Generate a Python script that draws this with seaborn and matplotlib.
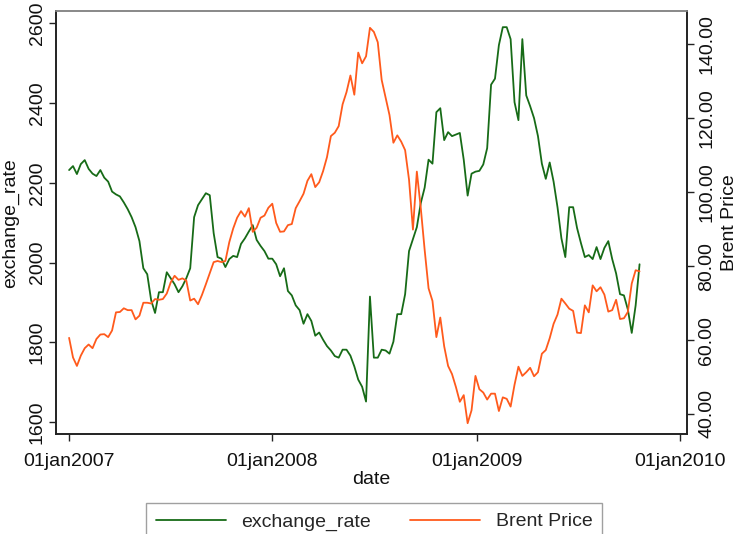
import pandas as pd
import matplotlib
matplotlib.use("Agg")
import matplotlib.pyplot as plt
import matplotlib.dates as mdates
from matplotlib.lines import Line2D
from matplotlib.ticker import FuncFormatter, FixedLocator
import seaborn as sns

start_date = "2007-01-02"
exchange_rate = [
    2232, 2242, 2222, 2247, 2257, 2235, 2223, 2217, 2232, 2213,
    2203, 2178, 2171, 2166, 2151, 2134, 2114, 2089, 2054, 1986,
    1971, 1906, 1874, 1926, 1926, 1976, 1961, 1946, 1926, 1941,
    1961, 1986, 2114, 2144, 2159, 2174, 2169, 2074, 2014, 2010,
    1989, 2009, 2017, 2014, 2047, 2061, 2078, 2094, 2057, 2042,
    2029, 2010, 2010, 1996, 1966, 1986, 1929, 1918, 1893, 1881,
    1847, 1871, 1854, 1817, 1825, 1807, 1791, 1780, 1766, 1762,
    1782, 1782, 1767, 1740, 1707, 1689, 1652, 1915, 1762, 1762,
    1782, 1780, 1772, 1802, 1871, 1871, 1921, 2029, 2059, 2089,
    2149, 2188, 2258, 2248, 2377, 2387, 2307, 2327, 2317, 2321,
    2325, 2258, 2168, 2223, 2228, 2230, 2246, 2287, 2446, 2461,
    2545, 2590, 2590, 2560, 2402, 2357, 2560, 2419, 2392, 2362,
    2317, 2248, 2210, 2251, 2203, 2139, 2061, 2014, 2139, 2139,
    2087, 2049, 2014, 2019, 2009, 2039, 2009, 2037, 2054, 2009,
    1973, 1921, 1918, 1883, 1824, 1893, 1996,
]
brent_price = [
    60.6, 55.3, 53.0, 55.8, 57.8, 58.8, 57.8, 60.3, 61.5, 61.6,
    60.8, 62.6, 67.5, 67.6, 68.6, 68.1, 68.1, 65.6, 66.6, 70.1,
    70.1, 69.9, 71.1, 70.9, 71.1, 72.6, 75.6, 77.4, 76.3, 76.7,
    76.1, 70.7, 71.2, 69.7, 72.2, 75.1, 78.1, 81.1, 81.4, 81.1,
    81.4, 86.5, 90.2, 93.1, 94.9, 93.4, 95.7, 89.3, 90.4, 93.1,
    93.7, 95.8, 96.9, 91.7, 89.3, 89.4, 91.1, 91.4, 95.7, 97.6,
    99.6, 103.1, 104.9, 101.4, 102.7, 105.7, 109.5, 115.2, 116.1, 117.9,
    123.8, 127.1, 131.6, 126.4, 137.8, 134.9, 136.8, 144.5, 143.4, 140.6,
    130.4, 125.6, 120.9, 113.4, 115.4, 113.7, 111.4, 103.4, 89.9, 105.6,
    95.8, 84.4, 74.0, 70.6, 60.8, 66.1, 58.3, 53.0, 50.8, 47.3,
    43.3, 45.1, 37.5, 41.0, 50.3, 46.7, 45.8, 43.9, 45.5, 45.5,
    40.8, 44.5, 44.1, 42.0, 47.9, 52.8, 50.3, 51.3, 52.5, 50.2,
    51.3, 56.3, 57.3, 60.5, 64.4, 66.9, 71.2, 69.9, 68.5, 67.9,
    62.0, 61.9, 69.4, 67.5, 74.8, 73.2, 74.3, 72.3, 67.7, 68.1,
    70.9, 65.7, 65.9, 67.6, 75.3, 78.9, 78.6,
]
x_ticks = ["2007-01-01", "2008-01-01", "2009-01-01", "2010-01-01"]
left_ticks = [1600, 1800, 2000, 2200, 2400, 2600]
right_ticks = [40, 60, 80, 100, 120, 140]

green = "#176b17"
orange = "#ff5a1c"

df = pd.DataFrame({
    "date": pd.date_range(start_date, periods=len(exchange_rate), freq="7D"),
    "exchange_rate": exchange_rate,
    "brent": brent_price,
})

sns.set_style("white")
plt.rcParams["font.family"] = ["Liberation Sans", "DejaVu Sans"]

fig = plt.figure(figsize=(7.38, 5.34), dpi=100)
ax = fig.add_axes([55.7 / 738, 1 - 434.3 / 534, 631.3 / 738, 423.1 / 534])
ax2 = ax.twinx()

sns.lineplot(data=df, x="date", y="exchange_rate", ax=ax, color=green, lw=1.3)
sns.lineplot(data=df, x="date", y="brent", ax=ax2, color=orange, lw=1.3)

ax.set_xlim(pd.Timestamp("2006-12-09"), pd.Timestamp("2010-01-13"))
ax.set_ylim(1570, 2630)
ax2.set_ylim(34.5, 149.0)

ax.xaxis.set_major_locator(FixedLocator(mdates.date2num(pd.to_datetime(x_ticks))))
ax.xaxis.set_major_formatter(FuncFormatter(lambda v, p: mdates.num2date(v).strftime("%d%b%Y").lower()))
ax.set_yticks(left_ticks)
ax2.set_yticks(right_ticks)
ax2.yaxis.set_major_formatter(FuncFormatter(lambda v, p: f"{v:.2f}"))

for a in (ax, ax2):
    a.tick_params(direction="out", length=5, width=1, color="#222222",
                  labelsize=14, labelcolor="#111111")
    for s in a.spines.values():
        s.set_color("#222222")
        s.set_linewidth(1.2)
    a.spines["top"].set_color("#888888")
ax.tick_params(axis="x", bottom=True, pad=8.5)
ax.tick_params(axis="y", left=True, labelrotation=90, pad=2)
ax2.tick_params(axis="y", right=True, labelrotation=90, pad=3)
for lab in ax.get_yticklabels() + ax2.get_yticklabels():
    lab.set_va("center")

ax.set_xlabel("date", fontsize=14, color="#111111", labelpad=1)
ax.set_ylabel("exchange_rate", fontsize=14, color="#111111")
ax2.set_ylabel("Brent Price", fontsize=14, color="#111111", rotation=90)
ax.yaxis.set_label_coords(-0.058, 0.5)
ax2.yaxis.set_label_coords(1.054, 0.5)

handles = [Line2D([], [], color=green, lw=1.3), Line2D([], [], color=orange, lw=1.3)]
leg = fig.legend(handles, ["exchange_rate", "Brent Price"], loc="upper center",
                 bbox_to_anchor=(0.507, 1 - 503 / 534), ncol=2, fontsize=14,
                 frameon=True, fancybox=False, edgecolor="#888888",
                 handlelength=3.6, columnspacing=2.0, borderpad=0.5,
                 borderaxespad=0)
leg.get_frame().set_linewidth(1.0)

fig.savefig("out.png", dpi=100)
